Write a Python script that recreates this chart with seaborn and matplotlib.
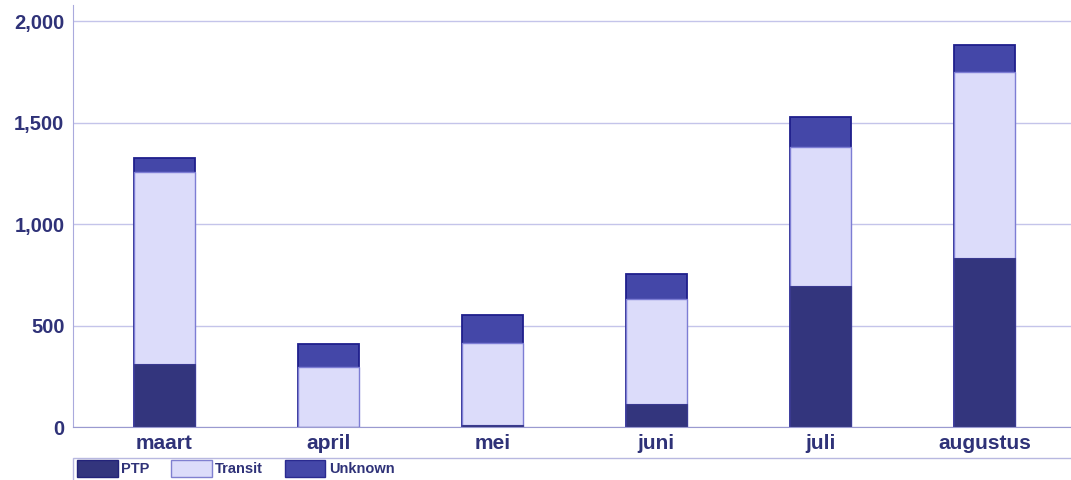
import pandas as pd
import seaborn as sns
import matplotlib.pyplot as plt
from matplotlib.patches import Patch, Rectangle

# Data
months = ["maart", "april", "mei", "juni", "juli", "augustus"]
ptp = [310, 3, 10, 113, 695, 835]
transit = [946, 295, 404, 520, 687, 915]
unknown = [69, 112, 139, 121, 145, 133]

ptp_col = "#33357d"
transit_col = "#dcdcfa"
unknown_col = "#4447a8"
text_col = "#2f3278"

df = pd.DataFrame({"month": months, "PTP": ptp, "Transit": transit, "Unknown": unknown})
df["lvl2"] = df["PTP"] + df["Transit"]
df["lvl3"] = df["lvl2"] + df["Unknown"]

sns.set_style("white")
plt.rcParams["font.family"] = ["Liberation Sans", "DejaVu Sans"]

fig = plt.figure(figsize=(10.71, 4.8), dpi=100)
ax = fig.add_axes([0.068, 0.11, 0.94, 0.88])

# stacked bars, drawn tallest first
sns.barplot(data=df, x="month", y="lvl3", order=months, color=unknown_col, saturation=1,
            width=0.37, edgecolor="#1f1f8c", linewidth=1.3, ax=ax)
sns.barplot(data=df, x="month", y="lvl2", order=months, color=transit_col, saturation=1,
            width=0.37, edgecolor="#7d7dd4", linewidth=1.0, ax=ax)
sns.barplot(data=df, x="month", y="PTP", order=months, color=ptp_col, saturation=1,
            width=0.37, edgecolor="#3a3a90", linewidth=0.8, ax=ax)

ax.set_xlim(-0.557, 5.58)
ax.set_ylim(0, 2082)
ax.set_yticks([0, 500, 1000, 1500, 2000])
ax.set_yticklabels(["0", "500", "1,000", "1,500", "2,000"])
ax.yaxis.grid(True, color="#c4c4ea", linewidth=1.0)
ax.set_axisbelow(True)
ax.set_xlabel("")
ax.set_ylabel("")

for s in ["top", "right"]:
    ax.spines[s].set_visible(False)
ax.spines["left"].set_color("#aaaadd")
ax.spines["bottom"].set_color("#9a9ad0")
ax.tick_params(axis="both", colors="#aaaadd", length=4, width=1)
ax.tick_params(axis="x", pad=1)
ax.tick_params(axis="y", pad=2)
for lab in ax.get_xticklabels():
    lab.set_fontsize(15)
    lab.set_fontweight("bold")
    lab.set_color(text_col)
for lab in ax.get_yticklabels():
    lab.set_fontsize(14.5)
    lab.set_fontweight("bold")
    lab.set_color(text_col)

# legend box across the bottom
fig.add_artist(Rectangle((0.068, -0.05), 0.94, 0.096, transform=fig.transFigure,
                         facecolor="none", edgecolor="#b8b8e0", linewidth=1.0))
handles = [Patch(facecolor=ptp_col, edgecolor="#23237a"),
           Patch(facecolor=transit_col, edgecolor="#8080d0"),
           Patch(facecolor=unknown_col, edgecolor="#2a2a90")]
leg = fig.legend(handles, ["PTP", "Transit", "Unknown"], loc="upper left",
                 bbox_to_anchor=(0.071, 0.045), ncol=3, frameon=False,
                 handlelength=2.75, handleheight=1.4, handletextpad=0.25,
                 columnspacing=1.5, borderaxespad=0, borderpad=0.1,
                 prop={"size": 10.5, "weight": "bold"})
for t in leg.get_texts():
    t.set_color(text_col)

fig.savefig("out.png", dpi=100)
